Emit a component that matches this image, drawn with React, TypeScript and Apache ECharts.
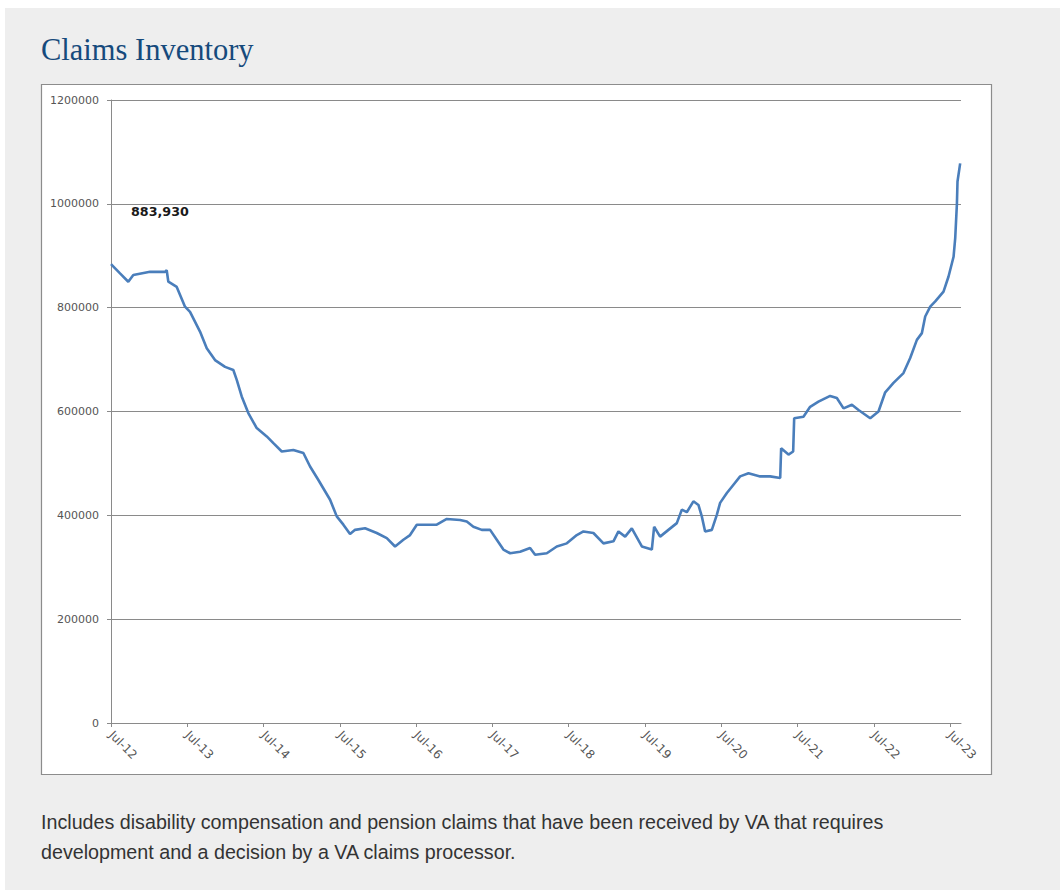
import React, { useEffect, useRef } from "react";
import * as echarts from "echarts";

// Months since Jul 2012 (fractional positions)
const months = [0, 1.42, 2.72, 3.51, 6.14, 8.5, 8.76, 9.02, 10.34, 11.64, 12.43, 14.0, 15.06, 16.36, 17.94, 19.24, 19.78, 20.56, 21.6, 22.92, 24.5, 25.54, 26.86, 28.68, 30.26, 31.31, 32.62, 34.46, 35.51, 36.55, 37.6, 38.39, 39.96, 41.8, 43.38, 44.68, 45.99, 47.04, 48.1, 49.67, 51.24, 52.82, 54.91, 55.96, 57.0, 58.32, 59.63, 60.68, 61.72, 62.78, 64.35, 65.92, 66.71, 68.55, 70.12, 71.7, 73.27, 74.31, 75.88, 77.46, 79.03, 79.82, 80.87, 81.92, 83.5, 85.07, 85.43, 86.37, 87.68, 89.0, 89.79, 90.57, 91.61, 92.4, 92.93, 93.45, 94.51, 95.29, 95.81, 96.87, 97.91, 98.96, 100.27, 102.11, 103.68, 105.26, 105.41, 106.56, 107.3, 107.46, 108.92, 109.97, 111.28, 113.12, 114.17, 115.22, 116.54, 117.58, 119.42, 120.72, 121.78, 123.08, 124.65, 125.71, 126.76, 127.55, 128.07, 128.86, 129.65, 130.95, 131.74, 132.53, 132.79, 133.06, 133.15, 133.57];

const claims = [883930, 866000, 850000, 863000, 869000, 869000, 872000, 850000, 840000, 802000, 792000, 754000, 722000, 699000, 686000, 680000, 661000, 629000, 597000, 568000, 552000, 539000, 523000, 526000, 520000, 494000, 468000, 430000, 398000, 382000, 364000, 372000, 375000, 366000, 356000, 340000, 353000, 362000, 382000, 382000, 382000, 393000, 391000, 388000, 378000, 372000, 372000, 353000, 334000, 327000, 330000, 337000, 324000, 327000, 340000, 346000, 362000, 369000, 366000, 346000, 350000, 369000, 359000, 375000, 340000, 334000, 378000, 359000, 372000, 385000, 411000, 406000, 427000, 420000, 398000, 369000, 372000, 401000, 424000, 443000, 459000, 475000, 481000, 475000, 475000, 472000, 529000, 517000, 523000, 587000, 590000, 609000, 619000, 630000, 626000, 606000, 613000, 603000, 587000, 600000, 637000, 655000, 674000, 703000, 738000, 751000, 783000, 802000, 812000, 831000, 860000, 898000, 934000, 1001000, 1043000, 1078000];

const xTickLabels = ["Jul-12", "Jul-13", "Jul-14", "Jul-15", "Jul-16", "Jul-17", "Jul-18", "Jul-19", "Jul-20", "Jul-21", "Jul-22", "Jul-23"];

const titleText = "Claims Inventory";
const noteLines = [
  "Includes disability compensation and pension claims that have been received by VA that requires",
  "development and a decision by a VA claims processor.",
];

export default function App() {
  const ref = useRef<HTMLDivElement>(null);

  useEffect(() => {
    if (!ref.current) return;
    const chart = echarts.init(ref.current, undefined, { renderer: "svg" });
    const tickValues = xTickLabels.map((_, i) => i * 12);
    const data = months.map((m, i) => [m, claims[i]]);
    const gridColor = "#8a8a8a";

    chart.setOption({
      animation: false,
      backgroundColor: "#ffffff",
      graphic: [
        {
          type: "rect",
          z: -10,
          shape: { x: 5, y: 8, width: 1055, height: 882 },
          style: { fill: "#eeeeee" },
          silent: true,
        },
        {
          type: "rect",
          z: -9,
          shape: { x: 41.5, y: 84.5, width: 950, height: 690 },
          style: { fill: "#ffffff", stroke: "#8c8c8c", lineWidth: 1.2 },
          silent: true,
        },
        {
          type: "text",
          x: 41,
          y: 50,
          style: {
            text: titleText,
            font: "30.5px 'Liberation Serif', serif",
            fill: "#164a7c",
            verticalAlign: "middle",
            align: "left",
          },
        },
        {
          type: "text",
          x: 131,
          y: 211,
          style: {
            text: claims[0].toLocaleString("en-US"),
            font: "bold 12.7px 'DejaVu Sans', sans-serif",
            fill: "#1a1a1a",
            verticalAlign: "middle",
            align: "left",
          },
        },
        ...noteLines.map((t, i) => ({
          type: "text",
          x: 41,
          y: 822 + i * 30,
          style: {
            text: t,
            font: "19.7px 'Liberation Sans', Arial, sans-serif",
            fill: "#333333",
            verticalAlign: "middle",
            align: "left",
          },
        })),
      ],
      grid: {
        left: 111,
        top: 100,
        width: 850,
        height: 623,
        outerBoundsMode: "none",
        containLabel: false,
      },
      xAxis: {
        type: "value",
        min: 0,
        max: 133.7,
        axisLine: { show: true, lineStyle: { color: gridColor, width: 1 } },
        axisTick: {
          show: true,
          customValues: tickValues,
          length: 4,
          lineStyle: { color: gridColor },
        },
        axisLabel: {
          customValues: tickValues,
          rotate: -45,
          margin: 10,
          color: "#555555",
          fontFamily: "'DejaVu Sans', sans-serif",
          fontSize: 12,
          formatter: (v: number) => xTickLabels[Math.round(v / 12)] ?? "",
        },
        splitLine: { show: false },
      },
      yAxis: {
        type: "value",
        min: 0,
        max: 1200000,
        interval: 200000,
        axisLine: { show: true, lineStyle: { color: gridColor, width: 1 } },
        axisTick: { show: true, length: 4, lineStyle: { color: gridColor } },
        axisLabel: {
          margin: 12,
          color: "#555555",
          fontFamily: "'DejaVu Sans', sans-serif",
          fontSize: 11,
          formatter: (v: number) => String(v),
        },
        splitLine: { show: true, lineStyle: { color: gridColor, width: 1 } },
      },
      series: [
        {
          type: "line",
          data,
          showSymbol: false,
          smooth: false,
          lineStyle: { color: "#4a7ebb", width: 2.6 },
          itemStyle: { color: "#4a7ebb" },
        },
      ],
    });

    return () => chart.dispose();
  }, []);

  return (
    <div
      ref={ref}
      style={{ position: "absolute", left: 0, top: 0, width: 1060, height: 895 }}
    />
  );
}
